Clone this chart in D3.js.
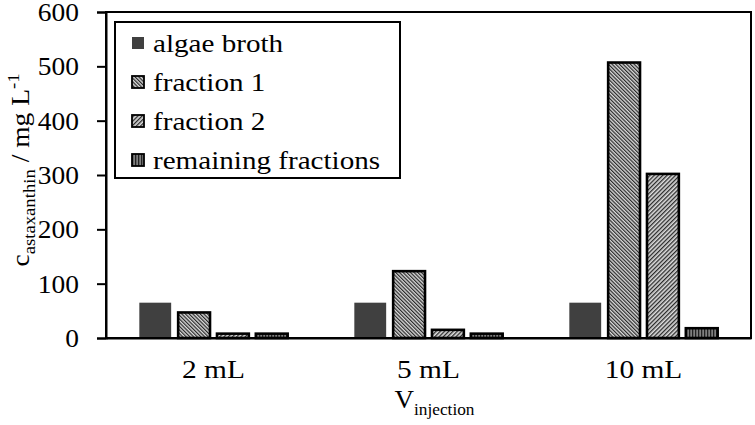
<!DOCTYPE html>
<html><head><meta charset="utf-8">
<script src="https://cdn.jsdelivr.net/npm/d3@7"></script>
<style>body{margin:0;background:#fff}svg{display:block}</style>
</head><body><svg id="c" width="755" height="425"></svg>
<script>
const categories = ["2 mL", "5 mL", "10 mL"];
const seriesNames = ["algae broth", "fraction 1", "fraction 2", "remaining fractions"];
const algaeBroth = [65, 65, 65];
const fraction1 = [47, 123, 507];
const fraction2 = [8, 15, 302];
const remainingFractions = [8, 8, 18];
const yTicks = [0, 100, 200, 300, 400, 500, 600];

const seriesValues = [algaeBroth, fraction1, fraction2, remainingFractions];
const fills = ["#404040", "url(#p1)", "url(#p2)", "url(#p3)"];
const FONT = '"Liberation Serif"';

const svg = d3.select("#c");
const M = {l: 106, r: 4, t: 12, b: 87};
const W = 755, H = 425;
const x0 = d3.scaleBand().domain(categories).range([M.l, W - M.r]).padding(0);
const x1 = d3.scaleBand().domain(seriesNames)
  .range([x0.bandwidth() * 0.155, x0.bandwidth() * 0.845]).paddingInner(0.18);
const y = d3.scaleLinear().domain([0, 600]).range([H - M.b, M.t]);

const defs = svg.append("defs");
function hatch(id, angle, period, lw, bg, fg) {
  const p = defs.append("pattern").attr("id", id).attr("patternUnits", "userSpaceOnUse")
    .attr("width", period).attr("height", period).attr("patternTransform", `rotate(${angle})`);
  p.append("rect").attr("width", period).attr("height", period).attr("fill", bg);
  p.append("rect").attr("width", lw).attr("height", period).attr("fill", fg);
}
hatch("p1", -45, 2.6, 1.2, "#d8d8d8", "#2a2a2a");
hatch("p2", 45, 3.0, 1.3, "#dcdcdc", "#2a2a2a");
hatch("p3", 0, 3, 1.3, "#808080", "#222222");

// bars
const groups = svg.append("g").selectAll("g").data(categories).join("g")
  .attr("transform", d => `translate(${x0(d)},0)`);
groups.selectAll("rect").data((d, i) => seriesNames.map((s, k) => ({s, k, v: seriesValues[k][i]})))
  .join("rect")
  .attr("x", d => x1(d.s))
  .attr("width", x1.bandwidth())
  .attr("y", d => y(d.v))
  .attr("height", d => y(0) - y(d.v))
  .attr("fill", d => fills[d.k])
  .attr("stroke", d => d.k === 0 ? "none" : "#000")
  .attr("stroke-width", 2.6);

// frame
svg.append("rect").attr("x", M.l).attr("y", M.t).attr("width", W - M.r - M.l).attr("height", y(0) - M.t)
  .attr("fill", "none").attr("stroke", "#000").attr("stroke-width", 2);

// y axis
const yAx = svg.append("g").attr("transform", `translate(${M.l},0)`)
  .call(d3.axisLeft(y).tickValues(yTicks).tickSize(9).tickPadding(0).tickFormat(d3.format("d")));
yAx.select(".domain").attr("stroke-width", 2);
yAx.selectAll(".tick line").attr("stroke-width", 2);
yAx.selectAll(".tick text").attr("font-size", 24.5).style("font-family", FONT).attr("fill", "#000")
  .attr("x", 0).attr("dy", "0.34em")
  .attr("transform", "translate(-27,0) scale(1.12,1)");

// x axis
const xAx = svg.append("g").attr("transform", `translate(0,${y(0)})`)
  .call(d3.axisBottom(x0).tickSize(0).tickPadding(0));
xAx.select(".domain").attr("stroke-width", 2);
xAx.selectAll(".tick text").attr("font-size", 24.5).style("font-family", FONT).attr("fill", "#000")
  .attr("x", 0).attr("y", 40).attr("dy", 0).attr("transform", "scale(1.2,1)");

// axis titles
const xt = svg.append("text").attr("font-size", 25).attr("text-anchor", "middle").style("font-family", FONT)
  .attr("transform", `translate(${(M.l + W - M.r) / 2 + 6},408) scale(1.08,1)`);
xt.append("tspan").text("V");
xt.append("tspan").attr("font-size", 16).attr("dy", 7).text("injection");

const yt = svg.append("text").attr("font-size", 25).attr("text-anchor", "middle").style("font-family", FONT)
  .attr("transform", `translate(29,${(M.t + y(0)) / 2 - 5}) rotate(-90) scale(1.1,1)`);
yt.append("tspan").text("c");
yt.append("tspan").attr("font-size", 17).attr("dy", 6).text("astaxanthin");
yt.append("tspan").attr("dy", -6).text(" / mg L");
yt.append("tspan").attr("font-size", 17).attr("dy", -10).text("-1");

// legend
const lg = svg.append("g");
lg.append("rect").attr("x", 115).attr("y", 22).attr("width", 285).attr("height", 156)
  .attr("fill", "#fff").attr("stroke", "#000").attr("stroke-width", 2);
const items = lg.selectAll("g.it").data(seriesNames).join("g").attr("class", "it")
  .attr("transform", (d, i) => `translate(132,${43 + i * 39})`);
items.append("rect").attr("x", 0).attr("y", -6).attr("width", 12).attr("height", 12)
  .attr("fill", (d, i) => fills[i]).attr("stroke", (d, i) => i === 0 ? "none" : "#000").attr("stroke-width", 1.8);
items.append("text").attr("x", 0).attr("y", 9).attr("font-size", 26).style("font-family", FONT)
  .attr("transform", "translate(21,0) scale(1.12,1)")
  .text(d => d);
</script></body></html>
